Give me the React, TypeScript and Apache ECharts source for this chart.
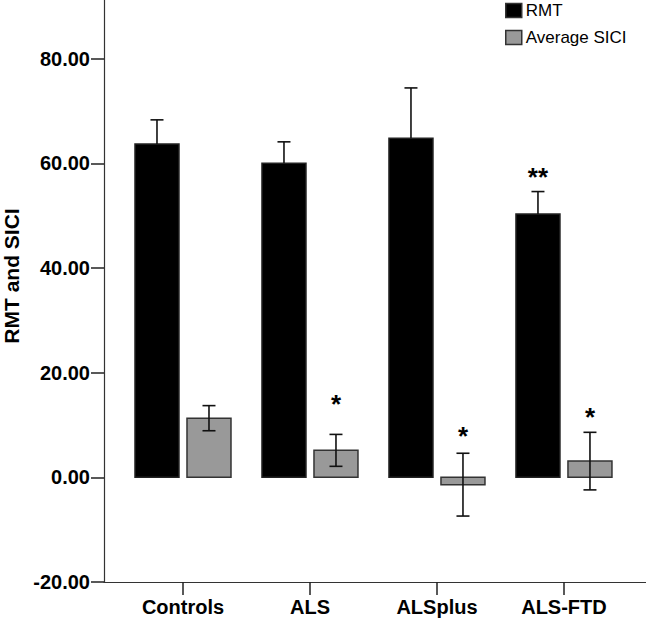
import React, { useEffect, useRef } from "react";
import * as echarts from "echarts";

const categories = ["Controls", "ALS", "ALSplus", "ALS-FTD"];
const rmtMean = [63.7, 60.0, 64.8, 50.3];
const rmtErr = [4.6, 4.1, 9.6, 4.3];
const siciMean = [11.3, 5.15, -1.4, 3.1];
const siciErr = [2.4, 3.05, 6.0, 5.5];
const rmtSig = ["", "", "", "**"];
const rmtSigY = [0, 0, 0, 58.2];
const siciSig = ["", "*", "*", "*"];
const siciSigY = [0, 14.7, 8.7, 12.2];
const yTicks = [-20, 0, 20, 40, 60, 80];
const catIdx = categories.map((_, i) => i);

const BAR_W = 44;
const OFF = 26;
const CAP = 13;
const FONT = "'Liberation Sans', Arial, Helvetica, sans-serif";

function barSeries(name: string, values: number[], offset: number, fill: string, stroke: string) {
  return {
    name,
    type: "custom",
    itemStyle: { color: fill, borderColor: stroke },
    data: values.map((v, i) => [i, v]),
    renderItem: (params: any, api: any) => {
      const x = api.value(0);
      const v = api.value(1);
      const p0 = api.coord([x, 0]);
      const p1 = api.coord([x, v]);
      const cx = p0[0] + offset;
      return {
        type: "rect",
        shape: { x: cx - BAR_W / 2, y: Math.min(p0[1], p1[1]), width: BAR_W, height: Math.abs(p1[1] - p0[1]) },
        style: { fill, stroke, lineWidth: 1.5 },
      };
    },
  };
}

function errSeries(id: string, means: number[], errs: number[], offset: number, both: boolean) {
  return {
    id,
    name: id,
    type: "custom",
    z: 5,
    data: means.map((m, i) => [i, m, errs[i]]),
    renderItem: (params: any, api: any) => {
      const x = api.value(0);
      const m = api.value(1);
      const e = api.value(2);
      const top = api.coord([x, m + e]);
      const bot = api.coord([x, both ? m - e : m]);
      const cx = top[0] + offset;
      const st = { stroke: "#111", lineWidth: 1.6 };
      const children: any[] = [
        { type: "line", shape: { x1: cx, y1: top[1], x2: cx, y2: bot[1] }, style: st },
        { type: "line", shape: { x1: cx - CAP / 2, y1: top[1], x2: cx + CAP / 2, y2: top[1] }, style: st },
      ];
      if (both) {
        children.push({ type: "line", shape: { x1: cx - CAP / 2, y1: bot[1], x2: cx + CAP / 2, y2: bot[1] }, style: st });
      }
      return { type: "group", children };
    },
  };
}

function sigSeries(id: string, marks: string[], ys: number[], offset: number) {
  return {
    id,
    name: id,
    type: "custom",
    z: 6,
    data: marks.map((m, i) => [i, ys[i], m]),
    renderItem: (params: any, api: any) => {
      const idx = params.dataIndex;
      const txt = marks[idx];
      if (!txt) return null;
      const p = api.coord([api.value(0), api.value(1)]);
      return {
        type: "text",
        x: p[0] + offset,
        y: p[1] + 4,
        style: {
          text: txt,
          fill: "#000",
          font: `bold 26px ${FONT}`,
          align: "center",
          verticalAlign: "middle",
        },
      };
    },
  };
}

export default function App() {
  const ref = useRef<HTMLDivElement>(null);
  useEffect(() => {
    if (!ref.current) return;
    const chart = echarts.init(ref.current, null, { renderer: "svg" });
    chart.setOption({
      animation: false,
      backgroundColor: "#fff",
      textStyle: { fontFamily: FONT },
      grid: { left: 104, right: 0, top: 0, bottom: 37, containLabel: false, outerBoundsMode: "none" },
      legend: {
        orient: "vertical",
        left: 505,
        top: 2,
        padding: 0,
        itemWidth: 16,
        itemHeight: 14,
        itemGap: 10,
        textStyle: { fontSize: 17, color: "#000", fontFamily: FONT, padding: [0, 0, 0, -1] },
        data: [
          { name: "RMT", icon: "rect", itemStyle: { color: "#000", borderColor: "#333", borderWidth: 1.5 } },
          { name: "Average SICI", icon: "rect", itemStyle: { color: "#999", borderColor: "#333", borderWidth: 1.5 } },
        ],
      },
      xAxis: {
        type: "value",
        min: -0.622,
        max: 3.646,
        splitLine: { show: false },
        axisLine: { show: true, onZero: false, lineStyle: { color: "#333", width: 1.2 } },
        axisTick: { show: true, length: 13, customValues: catIdx, lineStyle: { color: "#222", width: 1.5 } },
        axisLabel: {
          customValues: catIdx,
          formatter: (v: number) => categories[Math.round(v)] ?? "",
          fontSize: 20,
          fontWeight: "bold",
          color: "#000",
          margin: 15,
          fontFamily: FONT,
        },
      },
      yAxis: {
        type: "value",
        min: -20,
        max: 91.2,
        name: "RMT and SICI",
        nameLocation: "middle",
        nameGap: 79,
        nameTextStyle: { fontSize: 21, fontWeight: "bold", color: "#000", fontFamily: FONT, padding: [0, 0, 0, 30] },
        splitLine: { show: false },
        axisLine: { show: true, onZero: false, lineStyle: { color: "#333", width: 1.2 } },
        axisTick: { show: true, length: 13, customValues: yTicks, lineStyle: { color: "#222", width: 1.5 } },
        axisLabel: {
          customValues: yTicks,
          formatter: (v: number) => v.toFixed(2),
          fontSize: 20,
          fontWeight: "bold",
          color: "#000",
          margin: 14,
          fontFamily: FONT,
        },
      },
      series: [
        barSeries("RMT", rmtMean, -OFF, "#000", "#222"),
        barSeries("Average SICI", siciMean, OFF, "#999", "#333"),
        errSeries("rmtErr", rmtMean, rmtErr, -OFF, false),
        errSeries("siciErr", siciMean, siciErr, OFF, true),
        sigSeries("rmtSig", rmtSig, rmtSigY, -OFF),
        sigSeries("siciSig", siciSig, siciSigY, OFF),
      ],
    });
    return () => chart.dispose();
  }, []);
  return <div ref={ref} style={{ position: "fixed", left: 0, top: 0, width: 646, height: 619 }} />;
}
